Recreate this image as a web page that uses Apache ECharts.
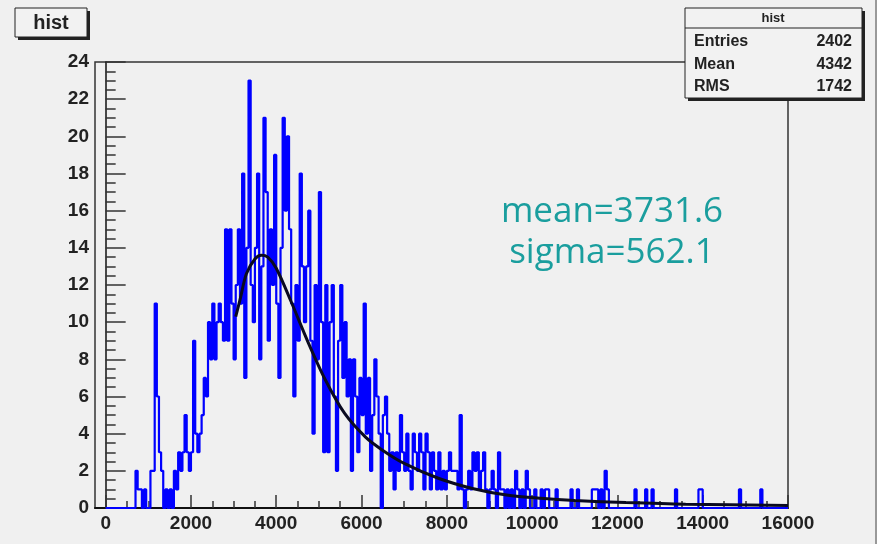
<!DOCTYPE html>
<html lang="en">
<head>
    <meta charset="UTF-8">
    <title>hist</title>
    <style>
        body {
            margin: 0;
            background-color: #f0f0f0;
        }

        #hist {
            width: 883px;
            height: 544px;
        }
    </style>
</head>
<body>

    <div id="hist"></div>

    <script src="https://cdn.jsdelivr.net/npm/echarts@6.0.0/dist/echarts.min.js"></script>
    <script>

        // histogram: bin width 50, first bin at 0
        const binStart = 0;
        const binWidth = 50;
        const counts = [
            0, 0, 0, 0, 0, 0, 0, 0, 0, 0,
            0, 0, 0, 0, 2, 1, 1, 0, 1, 0,
            0, 2, 2, 11, 6, 3, 2, 0, 1, 0,
            1, 0, 2, 1, 3, 2, 3, 5, 3, 2,
            3, 9, 4, 3, 4, 5, 7, 6, 10, 8,
            11, 8, 10, 11, 10, 9, 15, 9, 15, 11,
            8, 12, 15, 11, 18, 7, 14, 23, 12, 10,
            14, 18, 8, 13, 21, 17, 9, 15, 12, 19,
            11, 7, 14, 21, 16, 20, 15, 11, 6, 12,
            9, 18, 13, 10, 13, 16, 9, 4, 12, 8,
            17, 10, 3, 12, 3, 10, 12, 6, 2, 9,
            12, 7, 10, 6, 8, 2, 8, 6, 3, 7,
            5, 11, 4, 7, 2, 5, 8, 6, 4, 0,
            5, 6, 4, 2, 3, 1, 3, 2, 5, 3,
            2, 4, 2, 1, 4, 3, 2, 4, 3, 1,
            4, 3, 1, 3, 2, 1, 3, 1, 2, 1,
            2, 3, 2, 2, 2, 1, 5, 1, 0, 1,
            2, 1, 3, 2, 3, 1, 2, 3, 1, 0,
            1, 2, 1, 0, 3, 1, 1, 0, 1, 0,
            1, 0, 2, 1, 0, 1, 0, 2, 1, 0,
            0, 1, 0, 0, 1, 0, 1, 1, 0, 0,
            0, 1, 0, 0, 0, 0, 0, 0, 1, 0,
            0, 1, 0, 0, 0, 0, 0, 0, 1, 1,
            1, 0, 1, 0, 2, 1, 0, 0, 0, 0,
            0, 0, 0, 0, 0, 0, 0, 0, 1, 0,
            0, 0, 0, 1, 0, 0, 1, 0, 0, 0,
            0, 0, 0, 0, 0, 0, 0, 1, 0, 0,
            0, 0, 0, 0, 0, 0, 0, 0, 1, 1,
            0, 0, 0, 0, 0, 0, 0, 0, 0, 0,
            0, 0, 0, 0, 0, 0, 0, 1, 0, 0,
            0, 0, 0, 0, 0, 0, 0, 1, 0, 0,
            0, 0, 0, 0, 0, 0, 0, 0, 0, 0,
        ];

        // fit curve
        const fitX = [3050, 3150, 3300, 3500, 3650, 3800, 4000, 4350, 4750, 5150, 5600, 6100, 6500, 7000, 7800, 8600, 9400, 10200, 11000, 12200, 13600, 16000];
        const fitY = [10.3, 11.2, 12.6, 13.4, 13.6, 13.5, 12.9, 11.1, 8.9, 6.9, 5.1, 3.8, 3.1, 2.4, 1.6, 1.05, 0.7, 0.52, 0.4, 0.29, 0.2, 0.14];

        // tick labels
        const xMajor = [0, 2000, 4000, 6000, 8000, 10000, 12000, 14000, 16000];
        const xMinor = [];
        for (let v = 500; v < 16000; v += 500) {
            if (v % 2000 !== 0) xMinor.push(v);
        }

        // stats box
        const statNames = ['Entries', 'Mean', 'RMS'];
        const statValues = ['2402', '4342', '1742'];

        // fit result text
        const fitText = ['mean=3731.6', 'sigma=562.1'];

        // step outline from bin edges
        const histData = counts.map((c, i) => [binStart + i * binWidth, c]);
        histData.push([binStart + counts.length * binWidth, counts[counts.length - 1]]);

        const fitData = fitX.map((x, i) => [x, fitY[i]]);

        const chart = echarts.init(document.getElementById('hist'));

        const labelFont = {
            fontFamily: 'Liberation Sans',
            fontWeight: 'bold',
            fontSize: 19,
            color: '#222',
            formatter: v => String(v),
        };

        const graphic = [
            { type: 'rect', z: 100, shape: { x: 876, y: 0, width: 7, height: 544 }, style: { fill: '#fff' } },
            { type: 'line', z: 100, shape: { x1: 876, y1: 0, x2: 876, y2: 544 }, style: { stroke: '#999', lineWidth: 2 } },

            // title box
            { type: 'rect', z: 100, shape: { x: 18, y: 11, width: 72, height: 29 }, style: { fill: '#222' } },
            { type: 'rect', z: 100, shape: { x: 15, y: 8, width: 72, height: 29 }, style: { fill: '#f2f2f2', stroke: '#222', lineWidth: 1 } },
            { type: 'text', z: 101, x: 51, y: 23, style: { text: 'hist', font: 'bold 20px "Liberation Sans"', fill: '#222', align: 'center', verticalAlign: 'middle' } },

            // stats box
            { type: 'rect', z: 100, shape: { x: 688, y: 11, width: 177, height: 90 }, style: { fill: '#222' } },
            { type: 'rect', z: 100, shape: { x: 685, y: 8, width: 177, height: 90 }, style: { fill: '#f2f2f2', stroke: '#222', lineWidth: 1 } },
            { type: 'line', z: 101, shape: { x1: 685, y1: 28, x2: 862, y2: 28 }, style: { stroke: '#222', lineWidth: 1 } },
            { type: 'text', z: 101, x: 773, y: 18, style: { text: 'hist', font: 'bold 13px "Liberation Sans"', fill: '#222', align: 'center', verticalAlign: 'middle' } },
        ];

        statNames.forEach((name, i) => {
            const y = 42 + i * 22.5;
            graphic.push({ type: 'text', z: 101, x: 694, y: y, style: { text: name, font: 'bold 16px "Liberation Sans"', fill: '#222', align: 'left', verticalAlign: 'middle' } });
            graphic.push({ type: 'text', z: 101, x: 852, y: y, style: { text: statValues[i], font: 'bold 16px "Liberation Sans"', fill: '#222', align: 'right', verticalAlign: 'middle' } });
        });

        fitText.forEach((t, i) => {
            graphic.push({ type: 'text', z: 101, x: 612, y: 212 + i * 41, style: { text: t, font: '35px "Open Sans"', fill: '#1a9e9e', align: 'center', verticalAlign: 'middle' } });
        });

        const option = {
            animation: false,
            backgroundColor: '#f0f0f0',
            grid: {
                left: 95,
                right: 95,
                top: 62,
                bottom: 36,
                show: true,
                borderColor: '#333',
                borderWidth: 1.5,
            },
            xAxis: [
                {
                    type: 'value',
                    min: -250,
                    max: 16000,
                    axisLine: { lineStyle: { color: '#111', width: 2 } },
                    axisTick: { inside: true, length: 13, customValues: xMajor, lineStyle: { color: '#333', width: 1.5 } },
                    axisLabel: Object.assign({ customValues: xMajor, margin: 6 }, labelFont),
                    splitLine: { show: false },
                },
                {
                    type: 'value',
                    min: -250,
                    max: 16000,
                    position: 'bottom',
                    axisLine: { show: false },
                    axisTick: { inside: true, length: 7, customValues: xMinor, lineStyle: { color: '#333', width: 1.5 } },
                    axisLabel: { show: false },
                    splitLine: { show: false },
                },
            ],
            yAxis: {
                type: 'value',
                min: 0,
                max: 24,
                interval: 2,
                axisLine: { show: true, lineStyle: { color: '#111', width: 1.5 } },
                axisTick: { inside: true, length: 20, lineStyle: { color: '#333', width: 1.5 } },
                minorTick: { show: true, splitNumber: 4, length: 10, lineStyle: { color: '#333', width: 1.5 } },
                axisLabel: Object.assign({ margin: 6 }, labelFont),
                splitLine: { show: false },
            },
            series: [
                {
                    type: 'line',
                    step: 'end',
                    data: histData,
                    symbol: 'none',
                    lineStyle: { color: '#0000ff', width: 2.2 },
                    z: 3,
                },
                {
                    type: 'line',
                    data: fitData,
                    smooth: 0.3,
                    symbol: 'none',
                    lineStyle: { color: '#0a0a20', width: 3 },
                    z: 4,
                },
            ],
            graphic: graphic,
        };

        chart.setOption(option);

    </script>
</body>
</html>
